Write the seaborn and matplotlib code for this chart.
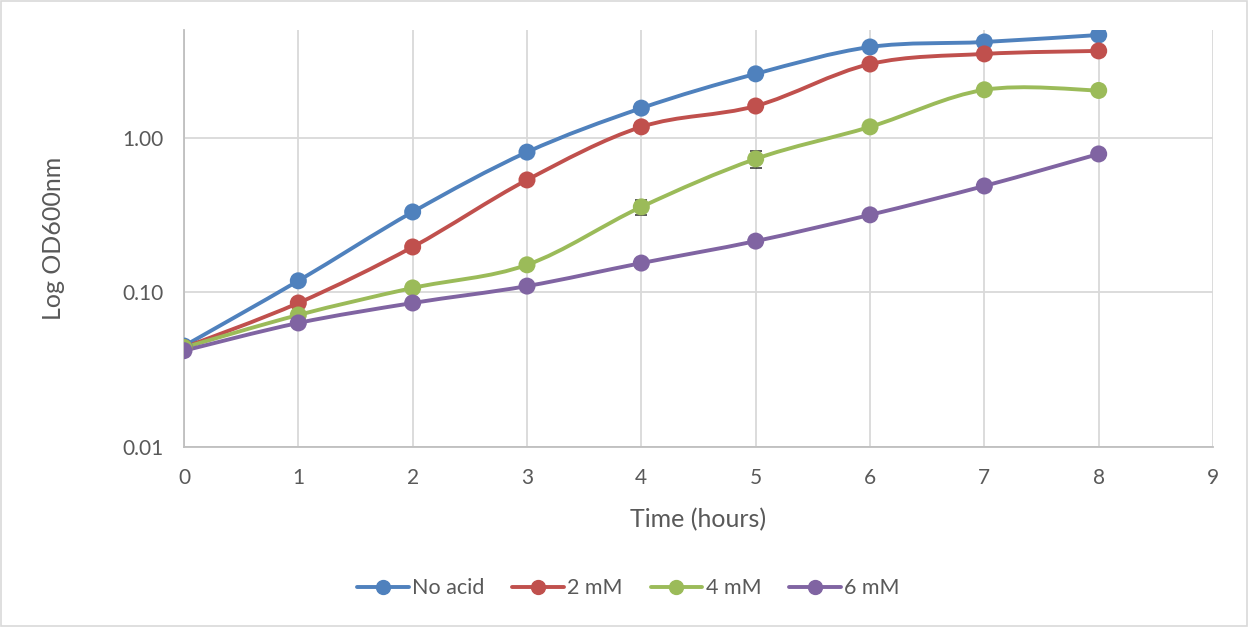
import numpy as np
import pandas as pd
import matplotlib.pyplot as plt
import seaborn as sns
from matplotlib.path import Path
from matplotlib.patches import PathPatch, Rectangle
from matplotlib.lines import Line2D
from matplotlib.ticker import FixedLocator, FormatStrFormatter, NullLocator

# data
hours = [0, 1, 2, 3, 4, 5, 6, 7, 8]
conditions = ["No acid", "2 mM", "4 mM", "6 mM"]
no_acid = [0.045, 0.119, 0.332, 0.81, 1.56, 2.6, 3.88, 4.18, 4.64]
mm2 = [0.044, 0.0855, 0.197, 0.535, 1.18, 1.61, 3.01, 3.5, 3.66]
mm4 = [0.044, 0.0715, 0.107, 0.151, 0.358, 0.732, 1.18, 2.05, 2.03]
mm6 = [0.042, 0.0635, 0.0855, 0.110, 0.155, 0.215, 0.318, 0.489, 0.788]
mm4_err = [0, 0, 0, 0, 0.04, 0.09, 0, 0, 0]
colors = ["#4F81BD", "#C0504D", "#9BBB59", "#8064A2"]

series = [no_acid, mm2, mm4, mm6]
df = pd.DataFrame({
    "time": hours * 4,
    "od": no_acid + mm2 + mm4 + mm6,
    "condition": [c for c in conditions for _ in hours],
})

sns.set_theme(style="white")
plt.rcParams['font.family'] = ['Lato', 'DejaVu Sans']
text_col = "#595959"

fig = plt.figure(figsize=(12.49, 6.27), dpi=100)
ax = fig.add_axes([0.1473, 0.2871, 0.8239, 0.6651])
ax.set_yscale("log")


def smooth_path(xs, ys, t=1 / 6):
    # Excel-style smoothed line: cubic bezier through points, computed in log space
    pts = np.column_stack([np.asarray(xs, float), np.log10(ys)])
    n = len(pts)
    verts = [pts[0]]
    codes = [Path.MOVETO]
    for i in range(n - 1):
        p0 = pts[max(i - 1, 0)]
        p1 = pts[i]
        p2 = pts[i + 1]
        p3 = pts[min(i + 2, n - 1)]
        c1 = p1 + (p2 - p0) * t
        c2 = p2 - (p3 - p1) * t
        verts += [c1, c2, p2]
        codes += [Path.CURVE4] * 3
    verts = np.array(verts)
    verts[:, 1] = 10 ** verts[:, 1]
    return Path(verts, codes)


for vals, col in zip(series, colors):
    patch = PathPatch(smooth_path(hours, vals), facecolor="none", edgecolor=col,
                      lw=2.8, capstyle="round", joinstyle="round", zorder=2)
    ax.add_patch(patch)

ax.errorbar(hours, mm4, yerr=mm4_err, fmt="none", ecolor="#404040",
            elinewidth=1, capsize=4.3, capthick=1.2, zorder=2.5)

sns.scatterplot(data=df, x="time", y="od", hue="condition", palette=colors,
                s=150, edgecolor="none", legend=False, zorder=3, ax=ax)

ax.set_xlim(0, 9)
ax.set_ylim(0.01, 5)
ax.set_xticks(hours + [9])
ax.yaxis.set_major_locator(FixedLocator([0.01, 0.1, 1.0]))
ax.yaxis.set_minor_locator(NullLocator())
ax.yaxis.set_major_formatter(FormatStrFormatter("%.2f"))

ax.grid(True, color="#D9D9D9", lw=1.3)
ax.set_axisbelow(True)
for side in ["top", "right"]:
    ax.spines[side].set_visible(False)
for side in ["left", "bottom"]:
    ax.spines[side].set_color("#BFBFBF")
    ax.spines[side].set_linewidth(1.3)

ax.tick_params(axis="both", length=0, labelsize=15, labelcolor=text_col, pad=15)
ax.set_xlabel("Time (hours)", fontsize=18, color=text_col)
ax.set_ylabel("Log OD600nm", fontsize=18, color=text_col)
ax.xaxis.set_label_coords(0.5, -0.147)
ax.yaxis.set_label_coords(-0.116, 0.5)

handles = [Line2D([], [], color=c, lw=2.8, marker="o", markersize=10) for c in colors]
leg = fig.legend(handles, conditions, loc="center", bbox_to_anchor=(0.503, 0.062),
                 ncol=4, frameon=False, fontsize=15.5, handlelength=2.4,
                 handletextpad=0.15, columnspacing=1.3)
for txt in leg.get_texts():
    txt.set_color(text_col)

fig.patches.append(Rectangle((0.0005, 0.001), 0.998, 0.997, transform=fig.transFigure,
                             fill=False, edgecolor="#D9D9D9", lw=1.2))

fig.savefig("out.png", dpi=100)
